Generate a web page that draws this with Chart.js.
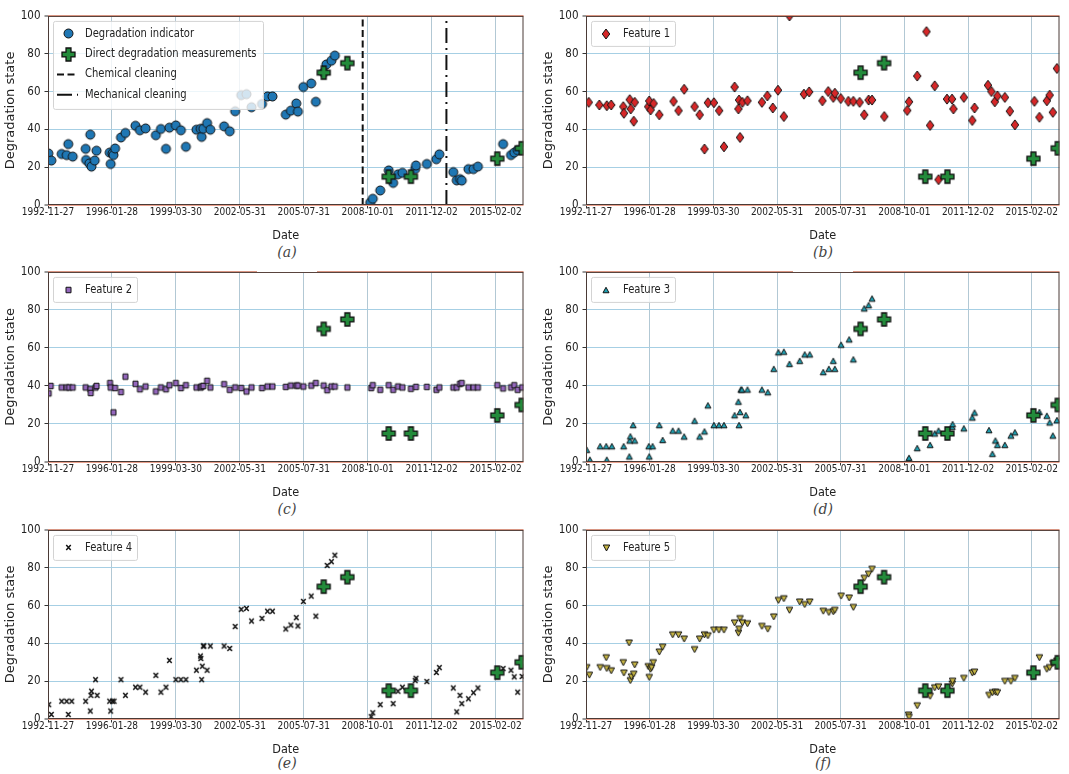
<!DOCTYPE html>
<html>
<head>
<meta charset="utf-8">
<title>Degradation state</title>
<script src="https://cdn.jsdelivr.net/npm/chart.js@4.4.1/dist/chart.umd.min.js"></script>
<style>
  html, body { margin: 0; padding: 0; background: #fff; }
  body { position: relative; width: 1069px; height: 774px; overflow: hidden; }
  canvas { position: absolute; }
  .caption { position: absolute; width: 60px; height: 28px; line-height: 28px; margin-left: -30px; margin-top: -12px;
    background: #fff; text-align: center; color: #444; font: italic 14px "DejaVu Serif", "Liberation Serif", serif; z-index: 2; }
</style>
</head>
<body>
<script>
'use strict';

// x axis: dates are decimal years
const tickLabels = ['1992-11-27', '1996-01-28', '1999-03-30', '2002-05-31', '2005-07-31', '2008-10-01', '2011-12-02', '2015-02-02'];
const yTicks = [0, 20, 40, 60, 80, 100];
const lastDate = 2016.47;

const chemicalCleaning = 2008.50;
const mechanicalCleaning = 2012.65;

const measDates = [2006.57, 2007.74, 2009.79, 2010.89, 2015.17, 2016.38];
const measValues = [70, 75, 15, 15, 24.5, 30];

const indicatorDates = [1992.92, 1993.07, 1993.58, 1993.83, 1993.91, 1994.13, 1994.77, 1994.79, 1994.95, 1995.00, 1995.06, 1995.22, 1995.31, 1995.96, 1996.01, 1996.10, 1996.15, 1996.23, 1996.52, 1996.74, 1997.24, 1997.46, 1997.74, 1998.25, 1998.50, 1998.75, 1998.92, 1999.24, 1999.49, 1999.74, 2000.26, 2000.47, 2000.52, 2000.60, 2000.79, 2000.95, 2001.63, 2001.91, 2002.18, 2002.48, 2002.74, 2002.99, 2003.51, 2003.78, 2004.03, 2004.69, 2004.94, 2005.21, 2005.29, 2005.56, 2005.95, 2006.18, 2006.57, 2006.70, 2006.95, 2007.12, 2008.87, 2009.00, 2009.37, 2009.79, 2010.01, 2010.25, 2010.47, 2011.10, 2011.14, 2011.68, 2012.15, 2012.30, 2012.99, 2013.16, 2013.32, 2013.41, 2013.74, 2013.99, 2014.21, 2015.46, 2015.85, 2016.01, 2016.18];
const indicatorValues = [27.3, 23.5, 27.0, 26.4, 32.2, 25.6, 29.7, 23.8, 22.0, 37.2, 20.3, 23.5, 28.7, 27.7, 21.7, 27.3, 26.4, 29.9, 35.7, 38.1, 41.9, 39.5, 40.5, 36.9, 40.2, 29.7, 40.9, 42.1, 39.5, 30.8, 39.8, 40.3, 36.0, 40.3, 43.3, 39.8, 41.6, 39.0, 49.6, 58.1, 58.6, 51.7, 53.4, 57.4, 57.4, 47.8, 49.9, 53.7, 49.4, 62.4, 64.3, 54.6, 70.0, 74.3, 76.3, 79.0, 1.2, 3.3, 7.7, 18.3, 11.7, 16.2, 17.0, 19.0, 20.9, 21.7, 24.2, 26.8, 17.4, 13.0, 13.7, 12.9, 19.0, 19.0, 20.3, 32.2, 26.4, 27.7, 29.0];

const f1Dates = [1993.04, 1993.57, 1993.94, 1994.16, 1994.76, 1994.79, 1995.08, 1995.13, 1995.28, 1995.33, 1996.00, 1996.05, 1996.12, 1996.27, 1996.55, 1997.26, 1997.51, 1997.79, 1998.31, 1998.56, 1998.80, 1998.97, 1999.27, 1999.53, 1999.77, 2000.30, 2000.49, 2000.52, 2000.57, 2000.69, 2000.94, 2001.66, 2001.93, 2002.20, 2002.46, 2002.75, 2003.03, 2003.75, 2004.01, 2004.67, 2004.96, 2005.21, 2005.29, 2005.58, 2005.96, 2006.21, 2006.52, 2006.75, 2006.97, 2007.14, 2007.75, 2008.89, 2008.98, 2009.39, 2009.85, 2010.03, 2010.26, 2010.45, 2010.87, 2011.12, 2011.19, 2011.71, 2012.13, 2012.24, 2012.91, 2013.08, 2013.25, 2013.38, 2013.75, 2014.00, 2014.25, 2015.22, 2015.47, 2015.84, 2015.98, 2016.14, 2016.34];
const f1Values = [54.3, 52.9, 52.5, 52.9, 52.0, 48.5, 55.7, 50.8, 44.3, 54.3, 52.0, 55.0, 50.3, 53.7, 47.7, 54.8, 49.9, 61.2, 52.0, 47.7, 29.6, 54.1, 54.1, 49.9, 30.8, 62.4, 50.8, 55.5, 35.7, 54.3, 55.1, 54.3, 57.7, 51.3, 60.7, 46.8, 100, 58.6, 59.8, 55.1, 60.0, 56.9, 59.1, 56.3, 54.8, 54.8, 54.3, 47.7, 55.5, 55.5, 46.8, 50.0, 54.6, 68.2, 91.7, 42.1, 63.0, 13.4, 56.0, 56.0, 50.8, 56.9, 44.7, 51.3, 63.3, 60.0, 54.6, 57.7, 56.9, 49.6, 42.4, 54.8, 46.4, 55.1, 58.1, 49.0, 72.2];

const f2Dates = [1992.94, 1993.04, 1993.58, 1993.83, 1993.95, 1994.13, 1994.77, 1995.00, 1995.02, 1995.26, 1995.31, 1995.98, 1996.01, 1996.15, 1996.23, 1996.52, 1996.74, 1997.24, 1997.46, 1997.74, 1998.25, 1998.50, 1998.75, 1998.92, 1999.24, 1999.49, 1999.74, 2000.26, 2000.47, 2000.52, 2000.60, 2000.79, 2000.95, 2001.63, 2001.91, 2002.18, 2002.48, 2002.74, 2002.99, 2003.51, 2003.78, 2004.03, 2004.69, 2004.94, 2005.21, 2005.29, 2005.56, 2005.95, 2006.18, 2006.57, 2006.74, 2006.95, 2007.12, 2007.74, 2008.92, 2009.00, 2009.37, 2009.79, 2010.01, 2010.25, 2010.47, 2010.89, 2011.14, 2011.68, 2012.15, 2012.30, 2012.99, 2013.16, 2013.32, 2013.41, 2013.74, 2013.99, 2014.21, 2015.17, 2015.46, 2015.85, 2016.01, 2016.18, 2016.40];
const f2Values = [36.1, 40.0, 39.2, 39.2, 39.2, 39.2, 39.2, 38.3, 36.3, 39.2, 40.0, 41.5, 39.2, 26.1, 38.9, 36.8, 44.9, 41.1, 38.3, 39.7, 37.1, 39.2, 38.3, 40.4, 41.5, 38.9, 40.4, 39.2, 39.2, 39.7, 40.0, 42.7, 39.2, 40.9, 38.0, 39.2, 38.9, 37.1, 39.2, 38.9, 39.7, 39.7, 39.5, 40.2, 40.2, 40.2, 39.7, 40.2, 41.5, 40.2, 37.8, 39.7, 39.7, 39.2, 38.9, 40.4, 38.0, 40.4, 38.0, 39.7, 39.2, 38.5, 39.5, 39.5, 38.0, 39.2, 39.2, 39.2, 41.1, 41.5, 39.2, 39.2, 39.2, 40.4, 38.7, 39.2, 40.4, 38.0, 39.2];

const f3Dates = [1992.94, 1993.10, 1993.61, 1993.91, 1993.94, 1994.19, 1994.78, 1995.06, 1995.08, 1995.11, 1995.25, 1995.33, 1996.03, 1996.05, 1996.22, 1996.55, 1996.72, 1997.22, 1997.51, 1997.79, 1998.31, 1998.56, 1998.80, 1998.97, 1999.27, 1999.52, 1999.77, 2000.30, 2000.49, 2000.52, 2000.57, 2000.61, 2000.66, 2000.86, 2000.94, 2001.66, 2001.95, 2002.25, 2002.48, 2002.75, 2003.03, 2003.54, 2003.79, 2004.04, 2004.71, 2004.99, 2005.21, 2005.29, 2005.60, 2006.00, 2006.21, 2006.75, 2006.97, 2007.14, 2008.96, 2008.98, 2009.39, 2010.03, 2010.26, 2010.45, 2011.13, 2011.15, 2011.71, 2012.13, 2012.24, 2012.96, 2013.13, 2013.28, 2013.38, 2013.75, 2014.05, 2014.25, 2015.47, 2015.84, 2015.98, 2016.14, 2016.34];
const f3Values = [6.4, 1.2, 8.3, 8.3, 1.2, 8.3, 8.3, 2.9, 11.3, 13.5, 19.4, 11.3, 8.3, 2.9, 8.3, 19.4, 11.6, 16.5, 16.5, 13.4, 21.7, 13.4, 16.1, 29.8, 19.4, 19.4, 19.4, 24.6, 31.7, 19.4, 26.3, 38.1, 38.1, 24.6, 38.1, 38.1, 36.7, 49.0, 57.7, 58.0, 51.6, 53.2, 56.6, 56.6, 47.3, 49.0, 53.2, 49.0, 61.7, 64.5, 54.0, 80.8, 82.5, 86.0, 1.2, 2.2, 7.3, 9.0, 15.0, 16.5, 18.5, 19.9, 17.7, 23.4, 26.0, 16.8, 4.3, 11.3, 9.0, 9.0, 13.9, 15.6, 26.3, 24.3, 20.8, 13.9, 22.0];

const f4Dates = [1992.94, 1993.07, 1993.58, 1993.83, 1993.91, 1994.08, 1994.77, 1995.00, 1995.03, 1995.06, 1995.26, 1995.34, 1995.96, 1996.01, 1996.10, 1996.18, 1996.52, 1996.74, 1997.24, 1997.46, 1997.74, 1998.25, 1998.50, 1998.75, 1998.92, 1999.24, 1999.49, 1999.74, 2000.26, 2000.46, 2000.48, 2000.52, 2000.55, 2000.60, 2000.63, 2000.79, 2000.95, 2001.63, 2001.91, 2002.18, 2002.48, 2002.74, 2002.99, 2003.51, 2003.78, 2004.03, 2004.69, 2004.94, 2005.21, 2005.29, 2005.56, 2005.95, 2006.18, 2006.74, 2006.95, 2007.12, 2008.92, 2009.00, 2009.37, 2010.01, 2010.25, 2010.47, 2011.10, 2011.14, 2011.68, 2012.15, 2012.30, 2012.99, 2013.16, 2013.32, 2013.41, 2013.74, 2013.99, 2014.21, 2015.46, 2015.85, 2016.01, 2016.18, 2016.40];
const f4Values = [7.6, 2.4, 9.4, 9.4, 2.4, 9.4, 9.4, 4.2, 12.5, 14.7, 20.8, 12.5, 9.4, 4.2, 9.4, 9.4, 20.8, 12.5, 16.8, 16.8, 14.2, 23.1, 14.2, 16.8, 31.0, 20.8, 20.8, 20.8, 25.8, 33.3, 32.0, 20.8, 27.9, 38.6, 38.6, 25.8, 38.6, 38.6, 37.3, 48.9, 58.0, 58.5, 51.8, 53.2, 57.0, 57.0, 47.6, 49.7, 53.6, 49.2, 62.2, 65.0, 54.4, 81.2, 83.2, 86.6, 1.2, 3.3, 7.6, 8.1, 14.7, 16.8, 20.3, 21.5, 19.8, 24.6, 27.2, 16.4, 3.8, 12.5, 8.1, 10.7, 13.9, 16.4, 26.7, 25.8, 22.3, 14.2, 22.5];

const f5Dates = [1992.94, 1993.07, 1993.61, 1993.91, 1993.94, 1994.16, 1994.76, 1994.79, 1995.05, 1995.11, 1995.16, 1995.28, 1995.33, 1996.00, 1996.05, 1996.12, 1996.17, 1996.25, 1996.55, 1996.72, 1997.22, 1997.51, 1997.79, 1998.31, 1998.56, 1998.80, 1998.97, 1999.27, 1999.52, 1999.77, 2000.30, 2000.49, 2000.52, 2000.57, 2000.69, 2000.94, 2001.66, 2001.95, 2002.25, 2002.48, 2002.75, 2003.03, 2003.54, 2003.79, 2004.04, 2004.71, 2004.99, 2005.21, 2005.29, 2005.60, 2006.00, 2006.21, 2006.75, 2006.97, 2007.14, 2008.96, 2008.98, 2009.39, 2010.03, 2010.26, 2010.45, 2011.13, 2011.15, 2011.71, 2012.13, 2012.24, 2012.96, 2013.13, 2013.28, 2013.38, 2013.75, 2014.05, 2014.25, 2015.47, 2015.84, 2015.98, 2016.14, 2016.34];
const f5Values = [27.2, 23.2, 27.2, 32.4, 26.7, 25.5, 29.8, 24.3, 40.2, 20.3, 22.3, 23.7, 28.6, 27.7, 22.0, 26.3, 27.2, 29.8, 35.4, 38.0, 44.5, 44.5, 42.3, 36.7, 42.3, 44.5, 44.0, 47.0, 47.0, 47.0, 50.8, 45.4, 47.5, 53.1, 50.8, 50.4, 49.0, 47.5, 54.0, 62.7, 63.6, 57.5, 61.9, 60.5, 61.9, 57.0, 56.3, 56.7, 57.5, 65.0, 64.0, 59.0, 74.4, 76.6, 79.2, 2.1, 0.9, 7.0, 12.0, 16.5, 17.0, 18.5, 20.0, 21.5, 24.3, 24.8, 12.5, 13.9, 14.2, 13.9, 19.9, 19.9, 21.5, 32.4, 26.3, 27.2, 29.3, 30.7];

const fontNarrow = '"DejaVu Sans Condensed", "Liberation Sans Narrow", "DejaVu Sans", sans-serif';

function toYear(s) {
  const d = new Date(s + 'T00:00:00Z');
  const y = d.getUTCFullYear();
  const start = Date.UTC(y, 0, 1);
  const end = Date.UTC(y + 1, 0, 1);
  return y + (d.getTime() - start) / (end - start);
}
const tickYears = tickLabels.map(toYear);

function points(dates, values) {
  return dates.map((d, i) => ({ x: d, y: values[i] }));
}

// small canvases used as point styles, matplotlib-like markers
function makeMarker(shape, fill, w, h) {
  const c = document.createElement('canvas');
  c.width = Math.ceil(w) + 4;
  c.height = Math.ceil(h) + 4;
  const g = c.getContext('2d');
  const cx = c.width / 2, cy = c.height / 2, rx = w / 2, ry = h / 2;
  g.fillStyle = fill;
  g.strokeStyle = '#111';
  g.lineWidth = 1;
  g.beginPath();
  if (shape === 'circle') {
    g.ellipse(cx, cy, rx, ry, 0, 0, Math.PI * 2);
  } else if (shape === 'diamond') {
    g.moveTo(cx, cy - ry); g.lineTo(cx + rx, cy); g.lineTo(cx, cy + ry); g.lineTo(cx - rx, cy); g.closePath();
  } else if (shape === 'square') {
    g.rect(cx - rx, cy - ry, w, h);
  } else if (shape === 'triUp') {
    g.moveTo(cx, cy - ry); g.lineTo(cx + rx, cy + ry); g.lineTo(cx - rx, cy + ry); g.closePath();
  } else if (shape === 'triDown') {
    g.moveTo(cx, cy + ry); g.lineTo(cx + rx, cy - ry); g.lineTo(cx - rx, cy - ry); g.closePath();
  } else if (shape === 'plus') {
    const t = w * 0.19;
    const pts = [[-t, -ry], [t, -ry], [t, -t], [rx, -t], [rx, t], [t, t], [t, ry], [-t, ry], [-t, t], [-rx, t], [-rx, -t], [-t, -t]];
    pts.forEach(([px, py], i) => i ? g.lineTo(cx + px, cy + py) : g.moveTo(cx + px, cy + py));
    g.closePath();
    g.lineWidth = 1.3;
  } else if (shape === 'x') {
    g.moveTo(cx - rx, cy - ry); g.lineTo(cx + rx, cy + ry);
    g.moveTo(cx + rx, cy - ry); g.lineTo(cx - rx, cy + ry);
    g.lineWidth = 1.5;
    g.stroke();
    return c;
  }
  g.fill();
  g.stroke();
  return c;
}

const markers = {
  indicator: makeMarker('circle', '#1f77b4', 9, 9),
  meas: makeMarker('plus', '#238b3b', 13, 13),
  f1: makeMarker('diamond', '#d62728', 7.5, 10),
  f2: makeMarker('square', '#9467bd', 5, 5.5),
  f3: makeMarker('triUp', '#1fa0b2', 6, 5.5),
  f4: makeMarker('x', '#111', 4.5, 5),
  f5: makeMarker('triDown', '#c6b545', 6.5, 6)
};

const chemDash = [7, 3.5];
const mechDash = [15, 5, 2, 5];

function scatterSet(data, img, order) {
  return { data, pointStyle: img, pointRadius: img.width / 2 - 1, order };
}

function cleaningSet(x, dash) {
  return {
    data: [{ x, y: 0 }, { x, y: 100 }],
    showLine: true, borderColor: '#111', borderWidth: 2, borderDash: dash,
    pointRadius: 0, order: 2
  };
}

function measSet() {
  return scatterSet(points(measDates, measValues), markers.meas, 0);
}

function drawFrame(chart) {
  const { ctx, chartArea: a } = chart;
  ctx.save();
  ctx.strokeStyle = '#4a3a36';
  ctx.lineWidth = 1;
  ctx.strokeRect(a.left + 0.5, a.top + 0.5, a.right - a.left - 1, a.bottom - a.top - 1);
  ctx.restore();
}

function drawLegend(chart, items, boxW, boxH) {
  const { ctx, chartArea: a } = chart;
  const x = a.left + 5, y = a.top + 5;
  ctx.save();
  ctx.beginPath();
  ctx.roundRect(x + 0.5, y + 0.5, boxW, boxH, 2);
  ctx.fillStyle = 'rgba(255,255,255,0.8)';
  ctx.fill();
  ctx.strokeStyle = '#d3d3d3';
  ctx.lineWidth = 1;
  ctx.stroke();

  ctx.font = '11.5px "DejaVu Sans", sans-serif';
  const sx = 109 / ctx.measureText('Degradation indicator').width;
  items.forEach((it, i) => {
    const cy = a.top + 18 + i * 20.3;
    if (it.img) {
      ctx.drawImage(it.img, Math.round(a.left + 20 - it.img.width / 2), Math.round(cy - it.img.height / 2));
    } else {
      ctx.setLineDash(it.dash);
      ctx.strokeStyle = '#111';
      ctx.lineWidth = 2;
      ctx.beginPath();
      ctx.moveTo(a.left + 9, cy);
      ctx.lineTo(a.left + 30, cy);
      ctx.stroke();
      ctx.setLineDash([]);
    }
    ctx.save();
    ctx.translate(a.left + 37, cy);
    ctx.scale(sx, 1);
    ctx.fillStyle = '#222';
    ctx.textBaseline = 'middle';
    ctx.fillText(it.label, 0, 0);
    ctx.restore();
  });
  ctx.restore();
}

const panels = [
  {
    L: 48, T: 13, R: 527, B: 205, caption: '(a)', capX: 287, capY: 256,
    datasets: [measSet(), scatterSet(points(indicatorDates, indicatorValues), markers.indicator, 1),
      cleaningSet(chemicalCleaning, chemDash), cleaningSet(mechanicalCleaning, mechDash)],
    legend: [
      { img: markers.indicator, label: 'Degradation indicator' },
      { img: markers.meas, label: 'Direct degradation measurements' },
      { dash: chemDash, label: 'Chemical cleaning' },
      { dash: mechDash, label: 'Mechanical cleaning' }
    ],
    legendW: 210, legendH: 88
  },
  {
    L: 586, T: 13, R: 1063, B: 205, caption: '(b)', capX: 823, capY: 256,
    datasets: [measSet(), scatterSet(points(f1Dates, f1Values), markers.f1, 1)],
    legend: [{ img: markers.f1, label: 'Feature 1' }], legendW: 84, legendH: 25
  },
  {
    L: 48, T: 269, R: 527, B: 462, caption: '(c)', capX: 287, capY: 513,
    datasets: [measSet(), scatterSet(points(f2Dates, f2Values), markers.f2, 1)],
    legend: [{ img: markers.f2, label: 'Feature 2' }], legendW: 84, legendH: 25
  },
  {
    L: 586, T: 269, R: 1063, B: 462, caption: '(d)', capX: 823, capY: 513,
    datasets: [measSet(), scatterSet(points(f3Dates, f3Values), markers.f3, 1)],
    legend: [{ img: markers.f3, label: 'Feature 3' }], legendW: 84, legendH: 25
  },
  {
    L: 48, T: 527, R: 527, B: 719, caption: '(e)', capX: 287, capY: 767,
    datasets: [measSet(), scatterSet(points(f4Dates, f4Values), markers.f4, 1)],
    legend: [{ img: markers.f4, label: 'Feature 4' }], legendW: 84, legendH: 25
  },
  {
    L: 586, T: 527, R: 1063, B: 719, caption: '(f)', capX: 823, capY: 767,
    datasets: [measSet(), scatterSet(points(f5Dates, f5Values), markers.f5, 1)],
    legend: [{ img: markers.f5, label: 'Feature 5' }], legendW: 84, legendH: 25
  }
];

function makePanel(p) {
  const padL = 48, padT = 8, padR = 5, padB = 46;
  const w = p.R - p.L + padL + padR;
  const h = p.B - p.T + padT + padB;
  const canvas = document.createElement('canvas');
  canvas.width = w;
  canvas.height = h;
  canvas.style.left = (p.L - padL) + 'px';
  canvas.style.top = (p.T - padT) + 'px';
  document.body.appendChild(canvas);

  new Chart(canvas, {
    type: 'scatter',
    data: { datasets: p.datasets },
    options: {
      responsive: false,
      animation: false,
      devicePixelRatio: 1,
      events: [],
      layout: { padding: { left: 0, top: padT, right: padR, bottom: 0 } },
      plugins: { legend: { display: false }, tooltip: { enabled: false } },
      scales: {
        x: {
          type: 'linear',
          min: tickYears[0],
          max: lastDate,
          afterBuildTicks: s => { s.ticks = tickYears.map(v => ({ value: v })); },
          afterFit: s => { s.height = padB; },
          ticks: {
            autoSkip: false, maxRotation: 0, minRotation: 0, padding: -1, color: '#222',
            font: { family: fontNarrow, size: 10, lineHeight: 1 },
            callback: (v, i) => tickLabels[i]
          },
          grid: { color: '#b2c8d4', lineWidth: 1, tickLength: 3.5, tickColor: '#333', tickWidth: 1 },
          border: { display: false },
          title: { display: true, text: 'Date', color: '#222', font: { family: fontNarrow, size: 12.5 }, padding: { top: 0, bottom: 8 } }
        },
        y: {
          min: 0,
          max: 100,
          afterBuildTicks: s => { s.ticks = yTicks.map(v => ({ value: v })); },
          afterFit: s => { s.width = padL; },
          ticks: { padding: 4, color: '#222', font: { family: fontNarrow, size: 11.5 } },
          grid: {
            color: c => (c.tick && (c.tick.value === 0 || c.tick.value === 100)) ? '#e9a08c' : '#a6cfe4',
            lineWidth: c => (c.tick && (c.tick.value === 0 || c.tick.value === 100)) ? 2 : 1,
            tickLength: 3.5, tickColor: '#333', tickWidth: 1
          },
          border: { display: false },
          title: { display: true, text: 'Degradation state', color: '#222', font: { family: '"DejaVu Sans", sans-serif', size: 13 }, padding: { top: 3, bottom: 0 } }
        }
      }
    },
    plugins: [{
      id: 'frameAndLegend',
      afterDatasetsDraw(chart) {
        drawFrame(chart);
        drawLegend(chart, p.legend, p.legendW, p.legendH);
      }
    }]
  });

  const cap = document.createElement('div');
  cap.className = 'caption';
  cap.textContent = p.caption;
  cap.style.left = p.capX + 'px';
  cap.style.top = p.capY + 'px';
  document.body.appendChild(cap);
}

panels.forEach(makePanel);
</script>
</body>
</html>
